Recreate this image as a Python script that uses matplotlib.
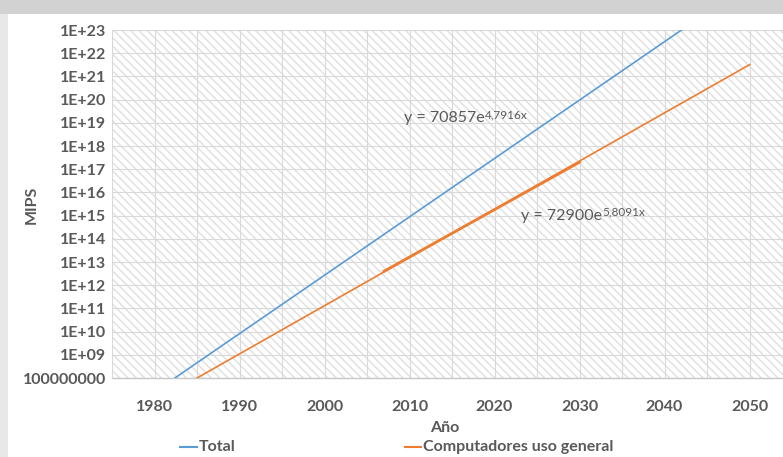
import matplotlib.pyplot as plt
from matplotlib.patches import Rectangle
from matplotlib.lines import Line2D

plt.rcParams['font.family'] = ['Lato', 'DejaVu Sans']
plt.rcParams['hatch.linewidth'] = 1.1
plt.rcParams['hatch.color'] = '#e2e2e2'

# trend lines
total_years = [1982.4, 2042.0]
total_mips = [1e8, 1e23]

general_years = [1985.0, 2050.0]
general_mips = [1e8, 3.2e21]

# thicker stretch of the orange series (data overlapped by trend)
general_data_years = [2007, 2030]
general_data_mips = [4e12, 2e17]

x_ticks = [1980, 1990, 2000, 2010, 2020, 2030, 2040, 2050]
y_ticks = [10.0 ** k for k in range(8, 24)]
y_labels = ['100000000'] + ['1E+%02d' % k for k in range(9, 24)]

eq_total = ('y = 70857e', '4,7916x')
eq_general = ('y = 72900e', '5,8091x')

grey = '#595959'
blue = '#5b9bd5'
orange = '#ed7d31'

fig = plt.figure(figsize=(7.83, 4.57), dpi=100, facecolor='#d2d2d2')
fig.add_artist(Rectangle((0, 0), 8 / 783, 443 / 457, transform=fig.transFigure,
                         facecolor='#e8e8e8', edgecolor='none', zorder=-2))
fig.add_artist(Rectangle((8 / 783, 0), 1, 443 / 457, transform=fig.transFigure,
                         facecolor='white', edgecolor='none', zorder=-1))

ax = fig.add_axes([112 / 783, 79 / 457, 680 / 783, 348 / 457])
ax.set_facecolor('none')
ax.add_patch(Rectangle((0, 0), 1, 1, transform=ax.transAxes, facecolor='white',
                       edgecolor='#e2e2e2', hatch='\\\\\\\\', lw=0, zorder=0))

ax.set_yscale('log')
ax.set_xlim(1975, 2055)
ax.set_ylim(1e8, 1e23)

ax.set_xticks(range(1975, 2056, 5), minor=True)
ax.set_xticks(x_ticks)
ax.set_xticklabels([str(x) for x in x_ticks])
ax.set_yticks(y_ticks)
ax.set_yticklabels(y_labels)
ax.yaxis.set_minor_locator(plt.NullLocator())

ax.grid(True, which='both', axis='x', color='#d9d9d9', lw=0.8, zorder=1)
ax.grid(True, which='major', axis='y', color='#d9d9d9', lw=0.8, zorder=1)
ax.set_axisbelow(True)

for s in ['left', 'right', 'top']:
    ax.spines[s].set_visible(False)
ax.spines['bottom'].set_color('#c8c8c8')
ax.spines['bottom'].set_linewidth(1.0)

ax.tick_params(axis='both', which='both', length=0, colors=grey)
ax.tick_params(axis='x', pad=16)
ax.tick_params(axis='y', pad=4)
for lab in ax.get_xticklabels() + ax.get_yticklabels():
    lab.set_fontweight('bold')
    lab.set_fontsize(11.5)

ax.plot(total_years, total_mips, color=blue, lw=1.2, zorder=3)
ax.plot(general_years, general_mips, color=orange, lw=1.2, zorder=3)
ax.plot(general_data_years, general_data_mips, color=orange, lw=2.0, zorder=3)

t1 = ax.text(2009.4, 10 ** 19.2, eq_total[0], color=grey, fontsize=11.5,
             va='center', ha='left', zorder=4)
ax.annotate(eq_total[1], xy=(1, 0.75), xycoords=t1, color=grey, fontsize=8.5,
            va='center', ha='left', zorder=4)
t2 = ax.text(2023.1, 10 ** 15.0, eq_general[0], color=grey, fontsize=11.5,
             va='center', ha='left', zorder=4)
ax.annotate(eq_general[1], xy=(1, 0.75), xycoords=t2, color=grey, fontsize=8.5,
            va='center', ha='left', zorder=4)

fig.text(445 / 783, 1 - 428 / 457, 'Año', color=grey, fontsize=11.5,
         fontweight='bold', ha='center', va='center')
fig.text(32 / 783, 1 - 205 / 457, 'MIPS', color=grey, fontsize=11.5,
         fontweight='bold', ha='center', va='center', rotation=90)

# legend
ly = 1 - 447 / 457
fig.add_artist(Line2D([180 / 783, 197 / 783], [ly, ly], color=blue, lw=1.5,
                      transform=fig.transFigure))
fig.text(199 / 783, ly, 'Total', color=grey, fontsize=11.5, fontweight='bold',
         ha='left', va='center')
fig.add_artist(Line2D([405 / 783, 421 / 783], [ly, ly], color=orange, lw=1.5,
                      transform=fig.transFigure))
fig.text(423 / 783, ly, 'Computadores uso general', color=grey, fontsize=11.5,
         fontweight='bold', ha='left', va='center')

fig.savefig('out.png', dpi=100, facecolor=fig.get_facecolor())
